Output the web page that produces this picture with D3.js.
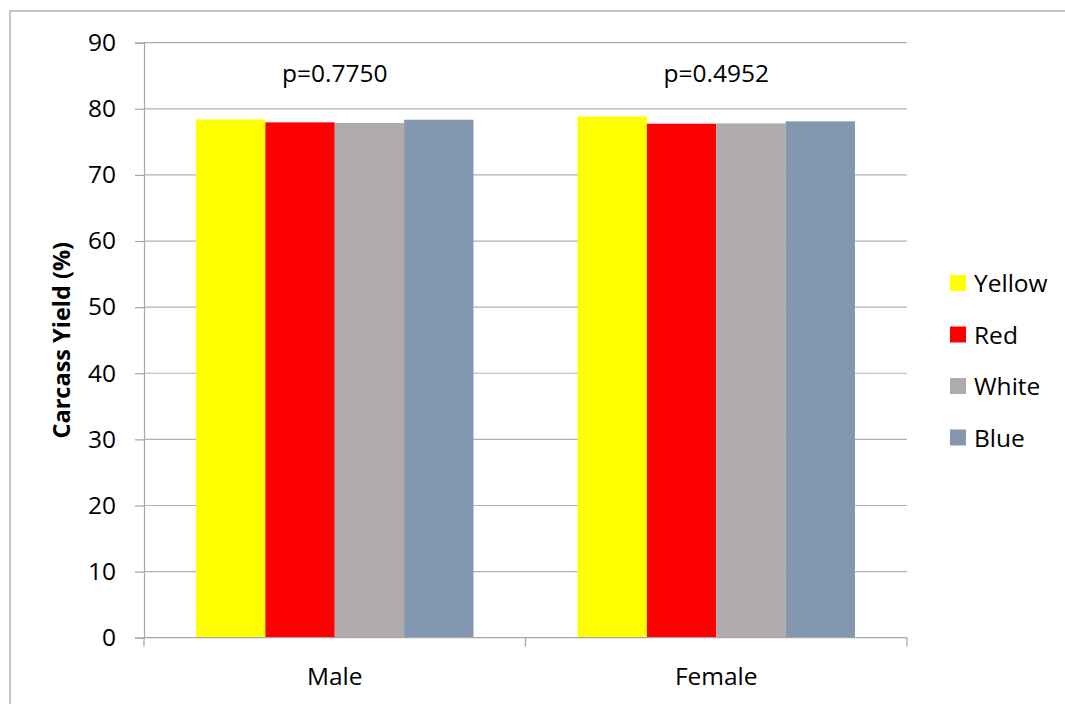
<!DOCTYPE html>
<html>
<head>
<meta charset="utf-8">
<script src="https://cdn.jsdelivr.net/npm/d3@7"></script>
<style>
  html, body { margin: 0; padding: 0; background: #fff; }
  svg { display: block; font-family: "Open Sans", sans-serif; }
</style>
</head>
<body>
<svg id="chart" width="1065" height="704"></svg>
<script>
const groups = ["Male", "Female"];
const series = ["Yellow", "Red", "White", "Blue"];
const colors = ["#ffff00", "#ff0000", "#afabab", "#8497b0"];
const maleValues = [78.4, 77.95, 77.85, 78.35];
const femaleValues = [78.85, 77.75, 77.8, 78.1];
const pValues = ["p=0.7750", "p=0.4952"];
const yTicks = [0, 10, 20, 30, 40, 50, 60, 70, 80, 90];

const data = groups.map((g, i) => ({
  group: g,
  p: pValues[i],
  values: series.map((s, j) => ({ series: s, value: (i === 0 ? maleValues : femaleValues)[j], color: colors[j] }))
}));

const svg = d3.select("#chart");
const W = 1065, H = 704;
const m = { left: 144, right: 907, top: 42.7, bottom: 637.7 };

// outer border (only top/left visible)
svg.append("rect").attr("x", 10).attr("y", 11).attr("width", W + 20).attr("height", H + 20)
  .attr("fill", "#fff").attr("stroke", "#a0a0a0").attr("stroke-width", 1.2);

const y = d3.scaleLinear().domain([0, 90]).range([m.bottom, m.top]);
const x0 = d3.scaleBand().domain(groups).range([m.left, m.right]).padding(0);
const x1 = d3.scaleBand().domain(series).range([0, x0.bandwidth()]).paddingInner(0).paddingOuter(0.75);

// gridlines
svg.append("g").selectAll("line").data(yTicks.filter(d => d > 0)).join("line")
  .attr("x1", m.left).attr("x2", m.right)
  .attr("y1", d => y(d)).attr("y2", d => y(d))
  .attr("stroke", "#b0b0b0").attr("stroke-width", 1.2);

// bars
const gG = svg.append("g").selectAll("g").data(data).join("g")
  .attr("transform", d => `translate(${x0(d.group)},0)`);
gG.selectAll("rect").data(d => d.values).join("rect")
  .attr("x", d => x1(d.series)).attr("width", x1.bandwidth())
  .attr("y", d => y(d.value)).attr("height", d => y(0) - y(d.value))
  .attr("fill", d => d.color);

// p-values
svg.append("g").selectAll("text").data(data).join("text")
  .attr("x", d => x0(d.group) + x0.bandwidth() / 2)
  .attr("y", 82)
  .attr("text-anchor", "middle")
  .attr("font-size", 24.5)
  .attr("fill", "#000")
  .text(d => d.p);

// y axis
const yAxis = d3.axisLeft(y).tickValues(yTicks).tickSize(9).tickPadding(19).tickFormat(d3.format("d"));
const ya = svg.append("g").attr("transform", `translate(${m.left},0)`).call(yAxis);
ya.select(".domain").attr("stroke", "#a6a6a6").attr("stroke-width", 1.2);
ya.selectAll(".tick line").attr("stroke", "#a6a6a6").attr("stroke-width", 1.2);
ya.selectAll(".tick text").attr("font-size", 24.5).attr("fill", "#000")
  .attr("font-family", "Open Sans, sans-serif");

// x axis
const xa = svg.append("g").attr("transform", `translate(0,${m.bottom})`);
xa.append("line").attr("x1", m.left).attr("x2", m.right).attr("y1", 0).attr("y2", 0)
  .attr("stroke", "#a6a6a6").attr("stroke-width", 1.2);
const bounds = [m.left, ...groups.map(g => x0(g) + x0.bandwidth())];
xa.selectAll("line.tk").data(bounds).join("line").attr("class", "tk")
  .attr("x1", d => d).attr("x2", d => d).attr("y1", 0).attr("y2", 9)
  .attr("stroke", "#a6a6a6").attr("stroke-width", 1.2);
xa.selectAll("text").data(groups).join("text")
  .attr("x", d => x0(d) + x0.bandwidth() / 2).attr("y", 47)
  .attr("text-anchor", "middle").attr("font-size", 24.5).attr("fill", "#000")
  .text(d => d);

// y label
svg.append("text")
  .attr("transform", `translate(70,${(m.top + m.bottom) / 2}) rotate(-90)`)
  .attr("text-anchor", "middle").attr("font-size", 23.5).attr("font-weight", "bold")
  .attr("fill", "#000")
  .text("Carcass Yield (%)");

// legend
const lg = svg.append("g").selectAll("g").data(series).join("g")
  .attr("transform", (d, i) => `translate(950,${283 + i * 51.5})`);
lg.append("rect").attr("x", 0).attr("y", -8).attr("width", 16).attr("height", 16)
  .attr("fill", (d, i) => colors[i]);
lg.append("text").attr("x", 24).attr("y", 9).attr("font-size", 24.5).attr("fill", "#000")
  .text(d => d);
</script>
</body>
</html>
